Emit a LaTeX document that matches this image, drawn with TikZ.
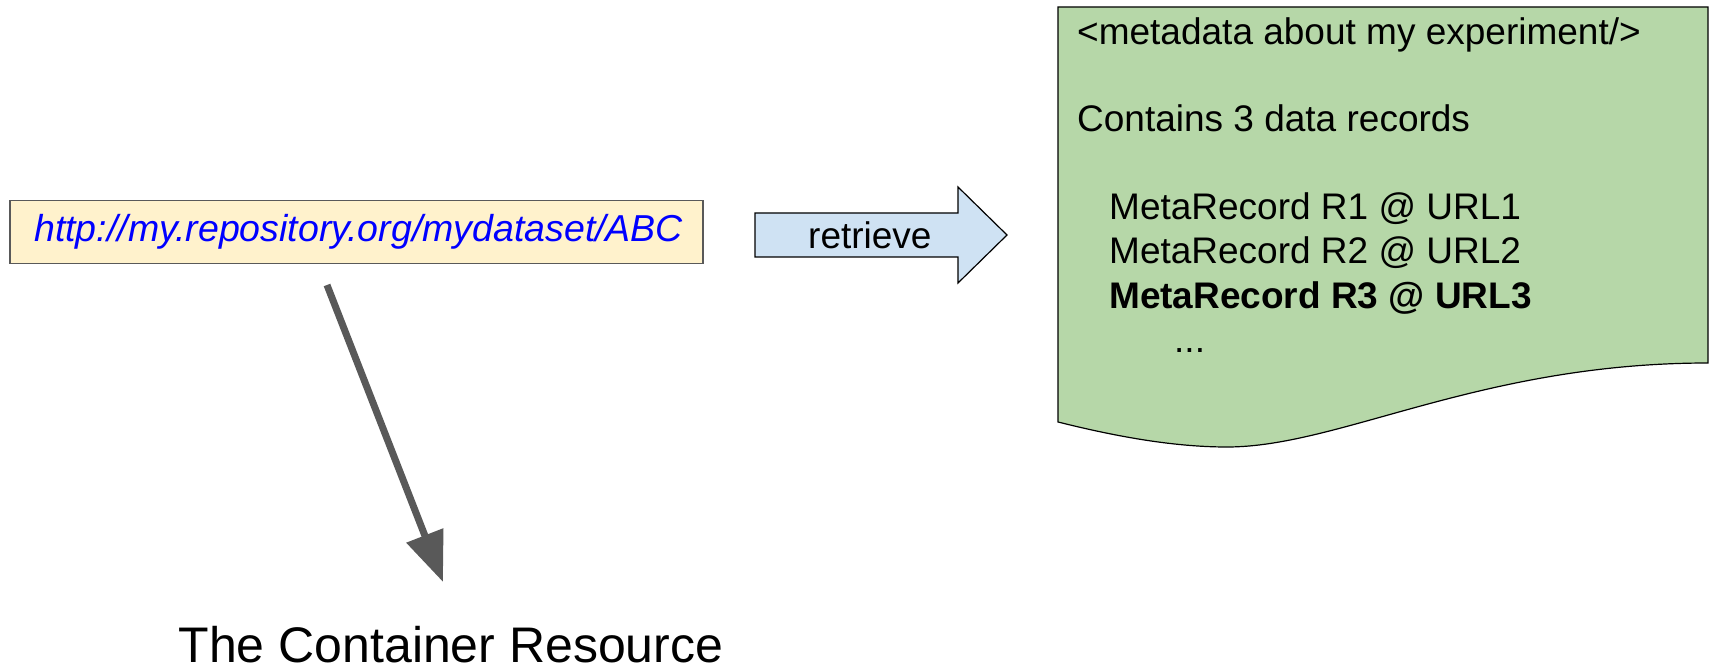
\documentclass[tikz,border=0pt]{standalone}
\usepackage{fontspec}
\setmainfont{Liberation Sans}
\usetikzlibrary{arrows.meta}
\definecolor{urlfill}{HTML}{FFF2CC}
\definecolor{docfill}{HTML}{B6D7A8}
\definecolor{arrowfill}{HTML}{CFE2F3}
\definecolor{edgegray}{HTML}{595959}
\definecolor{linkblue}{HTML}{0000FF}
\begin{document}
\begin{tikzpicture}[x=1pt,y=-1pt,
  txt/.style={inner sep=0pt, anchor=base west, font=\fontsize{37}{44}\selectfont},
  urlbox/.style={draw=edgegray, fill=urlfill, line width=1.5pt, inner sep=0pt, anchor=north west},
  blockarrow/.style={draw=black, fill=arrowfill, line width=1.2pt, line join=miter},
  docshape/.style={draw=black, fill=docfill, line width=1.2pt},
  bigarrow/.style={draw=edgegray, line width=7pt, -{Triangle[length=50pt,width=38pt]}}]
\useasboundingbox (0,0) rectangle (1714,671);

% the identifier
\node[urlbox, minimum width=693pt, minimum height=63pt] (url) at (9,200) {};
\node[txt, text=linkblue, font=\fontsize{37.5}{44}\selectfont\itshape] (urltext) at (34,242) {http://my.repository.org/mydataset/ABC};

% retrieve block arrow
\draw[blockarrow] (755,213) -- (958,213) -- (958,187) -- (1007,235) -- (958,283) -- (958,257) -- (755,257) -- cycle;
\node[txt] (retrieve) at (808,248) {retrieve};

% metadata document with a wavy lower edge
\draw[docshape] (1058,7) -- (1708,7) -- (1708,363)
  .. controls (1480,363) and (1340,447) .. (1227,447)
  .. controls (1170,447) and (1110,435) .. (1058,422) -- cycle;
\node[txt] (meta) at (1077,45) {<metadata about my experiment/>};
\node[txt] (contains) at (1077,132) {Contains 3 data records};
\node[txt] (rec1) at (1109,220) {MetaRecord R1 @ URL1};
\node[txt] (rec2) at (1109,263) {MetaRecord R2 @ URL2};
\node[txt, font=\fontsize{37}{44}\selectfont\bfseries] (rec3) at (1109,308) {MetaRecord R3 @ URL3};
\node[txt] (dots) at (1174,352) {...};

% link to the container resource
\node[inner sep=0pt, anchor=base, font=\fontsize{50}{60}\selectfont] (container) at (451,662) {The Container Resource};
\coordinate (from) at (327,285);
\coordinate (to) at (443,582);
\draw[bigarrow] (from) -- (to);
\end{tikzpicture}
\end{document}
